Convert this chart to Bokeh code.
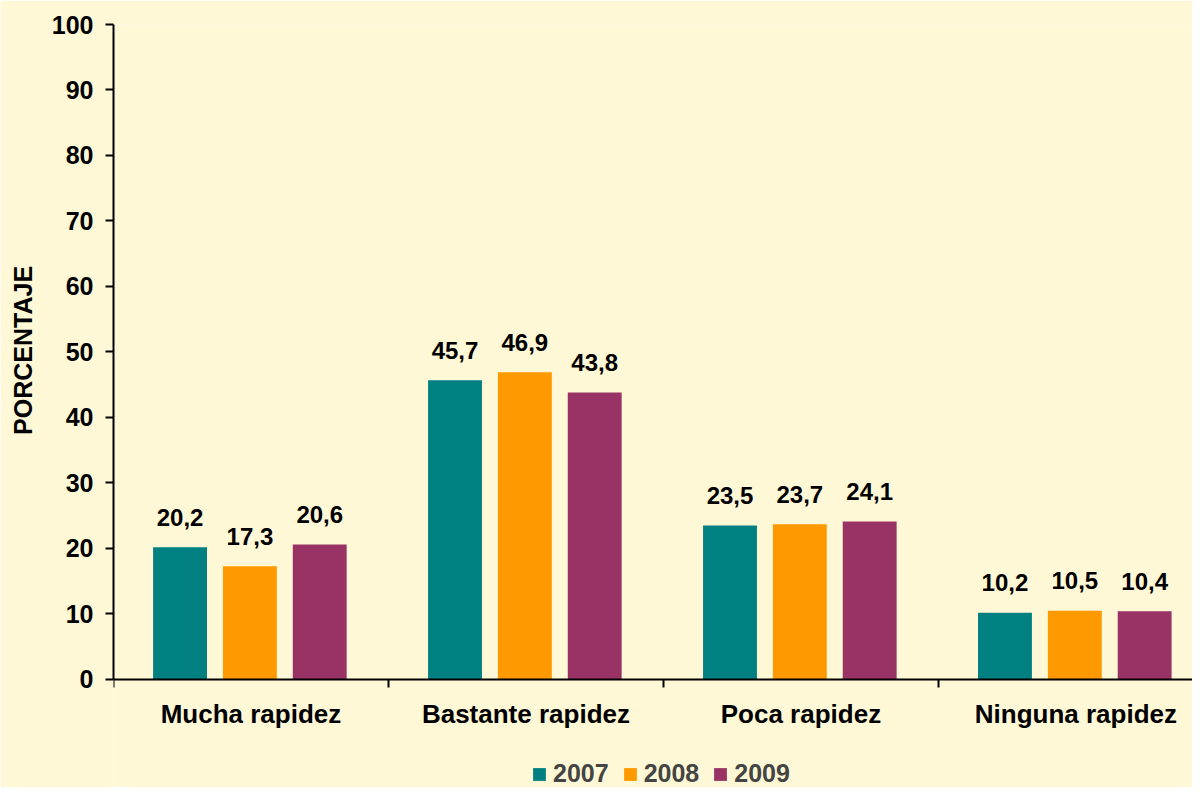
from bokeh.plotting import figure
from bokeh.models import ColumnDataSource, Range1d, FixedTicker, Legend, LegendItem
from bokeh.transform import dodge
from bokeh.core.properties import value
from bokeh.embed import file_html
from bokeh.resources import INLINE

cats = ["Mucha rapidez", "Bastante rapidez", "Poca rapidez", "Ninguna rapidez"]
years = ["2007", "2008", "2009"]
v2007 = [20.2, 45.7, 23.5, 10.2]
v2008 = [17.3, 46.9, 23.7, 10.5]
v2009 = [20.6, 43.8, 24.1, 10.4]
colors = ["#008080", "#FF9900", "#993366"]
y_ticks = list(range(0, 101, 10))
y_title = "PORCENTAJE"

BG = "#FFF8D6"
FONT = "Liberation Sans"

xc = [i + 0.5 for i in range(len(cats))]
series = [v2007, v2008, v2009]
offsets = [-0.258, -0.004, 0.25]

p = figure(width=1192, height=787, output_backend="svg", toolbar_location=None,
           x_range=Range1d(0, 3.924), y_range=Range1d(-16.5, 100),
           min_border_left=113, min_border_right=0, min_border_top=24, min_border_bottom=0,
           background_fill_color=BG, border_fill_color=BG, outline_line_color=None)
p.xgrid.visible = False
p.ygrid.visible = False

items = []
for yr, vals, col, off in zip(years, series, colors, offsets):
    src = ColumnDataSource(dict(x=xc, v=vals, lab=[f"{v:.1f}".replace(".", ",") for v in vals]))
    r = p.vbar(x=dodge("x", off, range=p.x_range), top="v", width=0.196, bottom=0,
               source=src, fill_color=col, line_color=None)
    p.text(x=dodge("x", off, range=p.x_range), y="v", text="lab", source=src,
           text_align="center", text_baseline="alphabetic", y_offset=-30,
           text_font=value(FONT), text_font_style="bold", text_font_size="24px",
           text_color="black")
    items.append(LegendItem(label=yr, renderers=[r]))

# y axis
ya = p.yaxis[0]
ya.ticker = FixedTicker(ticks=y_ticks)
ya.bounds = (0, 100)
ya.major_tick_out = 8
ya.major_tick_in = 0
ya.minor_tick_out = 0
ya.minor_tick_in = 0
ya.major_label_standoff = 12
ya.major_label_text_font = FONT
ya.major_label_text_font_style = "bold"
ya.major_label_text_font_size = "25px"
ya.major_label_text_color = "black"
ya.axis_line_color = "black"
ya.axis_line_width = 2
ya.major_tick_line_width = 2
# non-breaking spaces shift the centred title up to the middle of the 0-100 span
ya.axis_label = "\u00a0" * 16 + y_title
ya.axis_label_text_font = FONT
ya.axis_label_text_font_style = "bold"
ya.axis_label_text_font_size = "25px"
ya.axis_label_text_color = "black"
ya.axis_label_standoff = 12

# x axis drawn at y = 0
xa = p.xaxis[0]
xa.fixed_location = 0
xa.ticker = FixedTicker(ticks=xc, minor_ticks=[0, 1, 2, 3, 4])
xa.major_label_overrides = {c: lab for c, lab in zip(xc, cats)}
xa.major_tick_out = 0
xa.major_tick_in = 0
xa.minor_tick_out = 8
xa.minor_tick_in = 0
xa.minor_tick_line_color = "black"
xa.minor_tick_line_width = 2
xa.axis_line_color = "black"
xa.axis_line_width = 2
xa.major_label_standoff = 12
xa.major_label_text_font = FONT
xa.major_label_text_font_style = "bold"
xa.major_label_text_font_size = "26px"
xa.major_label_text_color = "black"

legend = Legend(items=items, orientation="horizontal", location=(418, -1),
                background_fill_alpha=0, border_line_color=None,
                label_text_font=FONT, label_text_font_style="bold",
                label_text_font_size="25px", glyph_width=16, glyph_height=16,
                label_standoff=6, spacing=13, padding=0, margin=0)
p.add_layout(legend, "center")

open("out.html", "w").write(file_html(p, INLINE))
